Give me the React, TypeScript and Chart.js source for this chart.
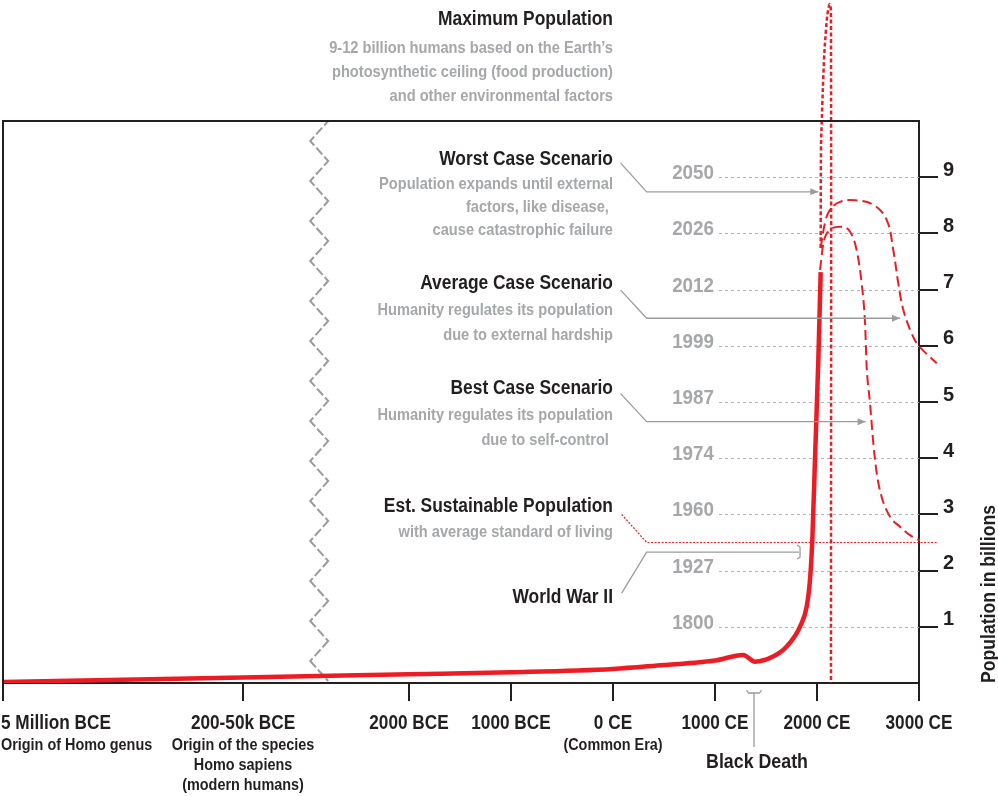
import React, { useEffect, useRef } from 'react';
import { Chart, registerables } from 'chart.js';
Chart.register(...registerables);

const RED = '#ed1c24';
const DARK = '#231f20';
const GRAY = '#a5a7aa';
const LEADER = '#9a9c9f';
const FONT = '"Liberation Sans", Arial, sans-serif';

// ---- broken time axis: years -> axis units (thousands of years, compressed before 2000 BCE)
const breakYears = [-5000000, -125000, -2000];
const breakUnits = [-5.98, -3.627, -2];
const breakMarkUnit = -2.88;
function toAxis(year: number): number {
  if (year >= breakYears[2]) return year / 1000;
  for (let i = 0; i < breakYears.length - 1; i++) {
    const a = breakYears[i], b = breakYears[i + 1];
    if (year <= b) {
      const t = (year - a) / (b - a);
      return breakUnits[i] + t * (breakUnits[i + 1] - breakUnits[i]);
    }
  }
  return breakUnits[0];
}

// ---- x axis ticks
const xTickYears = [-5000000, -125000, -2000, -1000, 0, 1000, 2000, 3000];
const xTickLabels = ['5 Million BCE', '200-50k BCE', '2000 BCE', '1000 BCE', '0 CE', '1000 CE', '2000 CE', '3000 CE'];
const xTickSubLabels: string[][] = [
  ['Origin of Homo genus'],
  ['Origin of the species', 'Homo sapiens', '(modern humans)'],
  [], [], ['(Common Era)'], [], [], [],
];

// ---- y axis (population in billions) and the year each level was / will be reached
const yTickValues = [1, 2, 3, 4, 5, 6, 7, 8, 9];
const yearMarks = ['1800', '1927', '1960', '1974', '1987', '1999', '2012', '2026', '2050'];

// ---- historical population (year, billions)
const histYears = [-5000000, -125000, -2000, -1000, 0, 500, 850, 1000, 1277, 1392, 1569, 1703, 1833, 1899, 1931, 1954, 1980, 2013, 2036];
const histPop = [0.02, 0.1, 0.155, 0.19, 0.25, 0.32, 0.37, 0.40, 0.50, 0.38, 0.47, 0.65, 1.0, 1.36, 1.83, 2.54, 3.97, 5.75, 7.31];

// ---- projections
const worstYears = [2036, 2039, 2046, 2069, 2088, 2108, 2127, 2137, 2137];
const worstPop = [7.74, 9.48, 9.96, 11.09, 11.62, 11.97, 12.08, 11.9, 0];

const avgYears = [2036, 2080, 2127, 2225, 2373, 2552, 2683, 2748, 2797, 2846, 2928, 2993, 3174];
const avgPop = [7.74, 8.2, 8.42, 8.56, 8.59, 8.51, 8.24, 7.70, 7.11, 6.64, 6.22, 6.01, 5.69];

const bestYears = [2030, 2062, 2127, 2225, 2324, 2389, 2438, 2471, 2487, 2520, 2552, 2585, 2634, 2716, 2814, 2912, 3010, 3174];
const bestPop = [7.35, 7.82, 8.06, 8.12, 8.03, 7.70, 7.11, 6.40, 5.63, 4.98, 4.27, 3.74, 3.31, 2.96, 2.78, 2.63, 2.54, 2.51];

const sustYears = [85, 331, 3176];
const sustPop = [3.0, 2.5, 2.5];

// ---- leader lines (year, billions)
const worstArrowYears = [75, 330, 2013];
const worstArrowPop = [9.25, 8.74, 8.74];
const avgArrowYears = [75, 330, 2814];
const avgArrowPop = [6.99, 6.49, 6.49];
const bestArrowYears = [75, 330, 2477];
const bestArrowPop = [5.15, 4.65, 4.65];
const wwiiYears = [85, 330, 1824];
const wwiiPop = [1.6, 2.33, 2.33];
const blackDeathYears = [1309, 1456];

// ---- annotation text (right-aligned at year 0)
const noteTexts = [
  'Maximum Population',
  '9-12 billion humans based on the Earth\u2019s',
  'photosynthetic ceiling (food production)',
  'and other environmental factors',
  'Worst Case Scenario',
  'Population expands until external',
  'factors, like disease, ',
  'cause catastrophic failure',
  'Average Case Scenario',
  'Humanity regulates its population',
  'due to external hardship',
  'Best Case Scenario',
  'Humanity regulates its population',
  'due to self-control ',
  'Est. Sustainable Population',
  'with average standard of living',
  'World War II',
];
const noteBaselines = [25, 53, 77, 100.5, 165, 189, 212, 235, 288.5, 315, 339.5, 394, 420, 445, 511.5, 536.5, 602.5];
const noteHeads = [true, false, false, false, true, false, false, false, true, false, false, true, false, false, true, false, true];

function drawText(ctx: CanvasRenderingContext2D, text: string, x: number, y: number, align: CanvasTextAlign, size: number, sx: number, color: string) {
  ctx.save();
  ctx.font = `bold ${size}px ${FONT}`;
  ctx.fillStyle = color;
  ctx.textBaseline = 'alphabetic';
  ctx.textAlign = align;
  ctx.translate(x, y);
  ctx.scale(sx, 1);
  ctx.fillText(text, 0, 0);
  ctx.restore();
}

const decor = {
  id: 'decor',
  beforeDatasetsDraw(chart: any) {
    const { ctx, chartArea: a, scales } = chart;
    const x = scales.x, y = scales.y;
    // partial dotted gridlines with year labels
    const gx0 = x.getPixelForValue(toAxis(1000));
    yTickValues.forEach((v, i) => {
      const py = Math.round(y.getPixelForValue(v)) + 0.5;
      ctx.save();
      ctx.strokeStyle = '#b3b5b8';
      ctx.lineWidth = 1;
      ctx.setLineDash([3, 3]);
      ctx.beginPath();
      ctx.moveTo(gx0 + 4, py);
      ctx.lineTo(a.right, py);
      ctx.stroke();
      ctx.restore();
      drawText(ctx, yearMarks[i], gx0 - 1, py + 1, 'right', 20, 0.94, GRAY);
    });
    // axis break zigzag
    const zx = x.getPixelForValue(breakMarkUnit);
    ctx.save();
    ctx.strokeStyle = '#9b9b9b';
    ctx.lineWidth = 2;
    ctx.setLineDash([12, 3, 9, 3]);
    ctx.lineDashOffset = 6;
    ctx.beginPath();
    let k = 0;
    for (let py = a.top; py <= a.bottom; py += 20, k++) {
      const px = zx + (k % 2 === 0 ? 9 : -9);
      if (k === 0) ctx.moveTo(px, py); else ctx.lineTo(px, py);
    }
    ctx.stroke();
    ctx.restore();
  },
  afterDatasetsDraw(chart: any) {
    const { ctx, chartArea: a, scales } = chart;
    const x = scales.x, y = scales.y;
    const px = (yr: number) => x.getPixelForValue(toAxis(yr));
    const py = (p: number) => y.getPixelForValue(p);

    // top & left frame
    ctx.save();
    ctx.strokeStyle = DARK;
    ctx.lineWidth = 2;
    ctx.beginPath();
    ctx.moveTo(a.left, a.bottom);
    ctx.lineTo(a.left, a.top);
    ctx.lineTo(a.right, a.top);
    ctx.stroke();
    ctx.restore();

    // annotation text
    const xr = px(0);
    noteTexts.forEach((t, i) => {
      if (noteHeads[i]) drawText(ctx, t, xr, noteBaselines[i], 'right', 20, 0.87, DARK);
      else drawText(ctx, t, xr, noteBaselines[i], 'right', 17, 0.86, GRAY);
    });

    // leader arrows
    const leader = (ys: number[], ps: number[], arrow: boolean) => {
      ctx.save();
      ctx.strokeStyle = LEADER;
      ctx.fillStyle = LEADER;
      ctx.lineWidth = 1.3;
      ctx.beginPath();
      ys.forEach((yr, i) => {
        const X = px(yr), Y = py(ps[i]);
        if (i === 0) ctx.moveTo(X, Y); else ctx.lineTo(X, Y);
      });
      ctx.stroke();
      if (arrow) {
        const X = px(ys[ys.length - 1]), Y = py(ps[ps.length - 1]);
        ctx.beginPath();
        ctx.moveTo(X, Y);
        ctx.lineTo(X - 8, Y - 3.5);
        ctx.lineTo(X - 8, Y + 3.5);
        ctx.closePath();
        ctx.fill();
      }
      ctx.restore();
    };
    leader(worstArrowYears, worstArrowPop, true);
    leader(avgArrowYears, avgArrowPop, true);
    leader(bestArrowYears, bestArrowPop, true);
    leader(wwiiYears, wwiiPop, false);

    // WWII bracket
    ctx.save();
    ctx.strokeStyle = LEADER;
    ctx.lineWidth = 1.3;
    const bx = px(wwiiYears[2]) + 1;
    const by = py(wwiiPop[2]);
    ctx.beginPath();
    ctx.moveTo(bx - 3, by - 7);
    ctx.lineTo(bx, by - 5);
    ctx.lineTo(bx, by + 5);
    ctx.lineTo(bx - 3, by + 7);
    ctx.stroke();
    // Black Death bracket
    const b0 = px(blackDeathYears[0]), b1 = px(blackDeathYears[1]);
    const bm = (b0 + b1) / 2;
    const bt = a.bottom + 10;
    ctx.beginPath();
    ctx.moveTo(b0, bt - 3);
    ctx.lineTo(b0 + 2, bt);
    ctx.lineTo(b1 - 2, bt);
    ctx.lineTo(b1, bt - 3);
    ctx.moveTo(bm, bt);
    ctx.lineTo(bm, a.bottom + 64);
    ctx.stroke();
    ctx.restore();
    drawText(ctx, 'Black Death', bm + 3, a.bottom + 85, 'center', 20, 0.89, DARK);

    // x axis labels
    xTickYears.forEach((yr, i) => {
      const X = px(yr);
      const left = i === 0;
      const ax: CanvasTextAlign = left ? 'left' : 'center';
      const lx = left ? 1 : X;
      drawText(ctx, xTickLabels[i], lx, a.bottom + 45.5, ax, 20, 0.86, DARK);
      xTickSubLabels[i].forEach((s, j) => {
        drawText(ctx, s, lx, a.bottom + 66.5 + j * 20, ax, 16, 0.9, DARK);
      });
    });

    // y axis title
    ctx.save();
    ctx.translate(a.right + 76, a.bottom);
    ctx.rotate(-Math.PI / 2);
    drawText(ctx, 'Population in billions', 0, 0, 'left', 20, 0.88, DARK);
    ctx.restore();
  },
};

export default function App() {
  const ref = useRef<HTMLCanvasElement>(null);
  useEffect(() => {
    const canvas = ref.current!;
    const toPts = (xs: number[], ys: number[]) => xs.map((v, i) => ({ x: toAxis(v), y: ys[i] }));
    const chart = new Chart(canvas, {
      type: 'line',
      data: {
        datasets: [
          { label: 'Population', data: toPts(histYears, histPop), borderColor: RED, borderWidth: 4.5, pointRadius: 0, cubicInterpolationMode: 'monotone' },
          { label: 'Worst Case', data: toPts(worstYears, worstPop), borderColor: RED, borderWidth: 2.5, borderDash: [4, 2.5], pointRadius: 0, tension: 0.4, clip: false },
          { label: 'Average Case', data: toPts(avgYears, avgPop), borderColor: RED, borderWidth: 2, borderDash: [10, 5], pointRadius: 0, tension: 0.4, clip: false },
          { label: 'Best Case', data: toPts(bestYears, bestPop), borderColor: RED, borderWidth: 2, borderDash: [10, 5], pointRadius: 0, cubicInterpolationMode: 'monotone', clip: false },
          { label: 'Sustainable', data: toPts(sustYears, sustPop), borderColor: RED, borderWidth: 1.2, borderDash: [2, 1.5], pointRadius: 0, tension: 0, clip: false },
        ] as any,
      },
      options: {
        animation: false,
        responsive: false,
        events: [],
        layout: { padding: { left: 3, top: 121, right: 0, bottom: 0 } },
        plugins: { legend: { display: false }, tooltip: { enabled: false } },
        scales: {
          x: {
            type: 'linear',
            position: 'bottom',
            min: toAxis(-5000000),
            max: toAxis(3000),
            afterBuildTicks: (s: any) => { s.ticks = xTickYears.map((v) => ({ value: toAxis(v) })); },
            afterFit: (s: any) => { s.height = 113; },
            ticks: { display: false, autoSkip: false },
            grid: { drawOnChartArea: false, drawTicks: true, tickLength: 18, color: DARK, lineWidth: 2 },
            border: { display: true, color: DARK, width: 2 },
          },
          y: {
            type: 'linear',
            position: 'right',
            min: 0,
            max: 10,
            afterBuildTicks: (s: any) => { s.ticks = yTickValues.map((v) => ({ value: v })); },
            afterFit: (s: any) => { s.width = 79; },
            ticks: { autoSkip: false, padding: 5, labelOffset: -7, color: DARK, font: { family: FONT, size: 20, weight: 'bold' }, callback: (v: any) => String(v) },
            grid: { drawOnChartArea: false, tickLength: 19, color: DARK, lineWidth: 2 },
            border: { display: true, color: DARK, width: 2 },
          },
        },
      } as any,
      plugins: [decor],
    });
    return () => chart.destroy();
  }, []);
  return (
    <canvas
      ref={ref}
      width={998}
      height={796}
      style={{ position: 'absolute', left: 0, top: 0, width: 998, height: 796, display: 'block' }}
    />
  );
}
